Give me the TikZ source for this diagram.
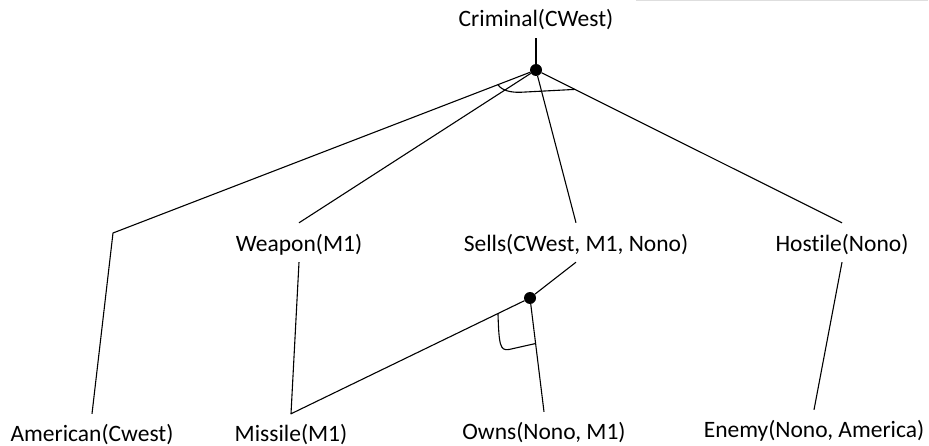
\documentclass[tikz,border=0pt]{standalone}
\usepackage{fontspec}
\setmainfont{Carlito}[Ligatures={NoCommon}]
\usetikzlibrary{calc}
\begin{document}
\begin{tikzpicture}[x=1pt,y=-1pt,
  lbl/.style={font=\fontsize{23.5}{28}\selectfont, anchor=base, inner xsep=0pt, inner ysep=10pt, text height=19pt, text depth=0pt},
  lblb/.style={lbl, inner ysep=8pt},
  dotn/.style={circle, fill=black, minimum size=12pt, inner sep=0pt},
  edge/.style={line width=1.1pt, line join=round}]
\useasboundingbox (0,0) rectangle (929,446);
\draw[line width=1pt, black!13] (636,0.8) -- (928,0.8);
% labels
\node[lbl, inner ysep=11pt] (crim) at (536,27) {Criminal(CWest)};
\node[lbl] (weap) at (299,252) {Weapon(M1)};
\node[lbl] (sells) at (576,252) {Sells(CWest, M1, Nono)};
\node[lbl] (host) at (842,252) {Hostile(Nono)};
\node[lblb] (amer) at (92,441) {American(Cwest)};
\node[lblb] (miss) at (291,441) {Missile(M1)};
\node[lblb] (owns) at (544,439) {Owns(Nono, M1)};
\node[lblb] (enemy) at (814,437) {Enemy(Nono, America)};
% junctions
\node[dotn] (d1) at (536,70) {};
\node[dotn] (d2) at (530,298) {};
\coordinate (amc) at (113,233);
% connectors
\draw[edge] (crim.south) -- (d1);
\draw[edge] (d1) -- (amc) -- (amer.north);
\draw[edge] (d1) -- (weap.north);
\draw[edge] (d1) -- (sells.north);
\draw[edge] (d1) -- (host.north);
\draw[edge] (weap.south) -- (miss.north) -- (d2) -- (sells.south);
\draw[edge] (d2) -- (owns.north);
\draw[edge] (host.south) -- (enemy.north);
% AND arcs
\draw[edge] ($(d1)!0.09!(amc)$) .. controls (502,91) and (512,92.5) .. (520,92.3) -- ($(d1)!0.127!(host.north)$);
\draw[edge] ($(d2)!0.134!(miss.north)$) .. controls (499,345) and (500,351) .. (509,349.5) -- ($(d2)!0.40!(owns.north)$);
\end{tikzpicture}
\end{document}
